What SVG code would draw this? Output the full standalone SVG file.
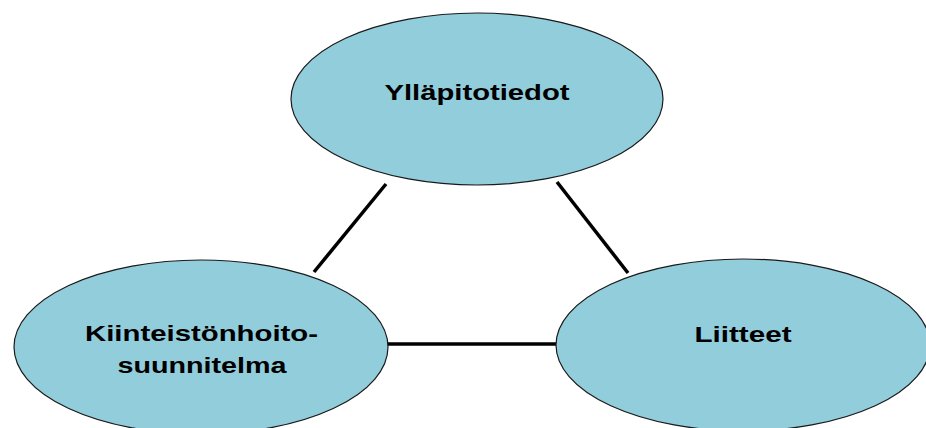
<svg xmlns="http://www.w3.org/2000/svg" width="926" height="428" viewBox="0 0 926 428">
  <style>
    .node { fill: #92cddc; stroke: #1a1a1a; stroke-width: 1.2; }
    .lbl { font-family: "Liberation Sans", Arial, sans-serif; font-weight: bold; font-size: 22px; fill: #000; text-anchor: middle; }
    .link { stroke: #000; stroke-width: 3.5; fill: none; }
  </style>
  <rect width="926" height="428" fill="#fff"/>
  <g id="connectors">
    <line class="link" x1="386" y1="184" x2="314" y2="272"/>
    <line class="link" x1="557" y1="182" x2="628" y2="273"/>
    <line class="link" x1="387" y1="344" x2="557" y2="344"/>
  </g>
  <g id="yllapitotiedot">
    <ellipse class="node" cx="477" cy="99" rx="186" ry="86"/>
    <text class="lbl" x="477" y="100" textLength="185" lengthAdjust="spacingAndGlyphs">Ylläpitotiedot</text>
  </g>
  <g id="kiinteistonhoitosuunnitelma">
    <ellipse class="node" cx="201" cy="347" rx="187" ry="87"/>
    <text class="lbl" x="201.5" y="341" textLength="233" lengthAdjust="spacingAndGlyphs">Kiinteistönhoito-</text>
    <text class="lbl" x="202" y="373" textLength="169" lengthAdjust="spacingAndGlyphs">suunnitelma</text>
  </g>
  <g id="liitteet">
    <ellipse class="node" cx="743" cy="345" rx="187" ry="86"/>
    <text class="lbl" x="743" y="342" textLength="97" lengthAdjust="spacingAndGlyphs">Liitteet</text>
  </g>
</svg>
